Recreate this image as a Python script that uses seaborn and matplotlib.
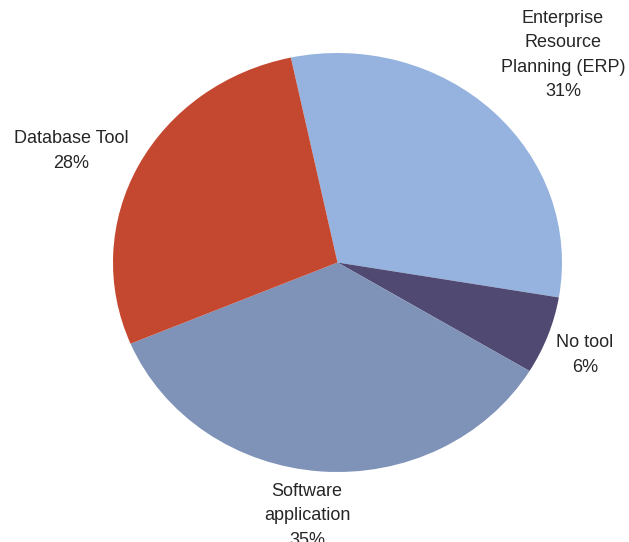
import matplotlib
matplotlib.use("Agg")
import matplotlib.pyplot as plt
import seaborn as sns

# Share of respondents by tool type
categories = ["Enterprise\nResource\nPlanning (ERP)", "No tool", "Software\napplication", "Database Tool"]
shares = [31, 6, 35, 28]
colors = ["#95B3DE", "#504A72", "#7F92B8", "#C4472F"]

# Label anchor points (pixel-style layout converted to pie data units)
label_px = [(563, 55), (585, 355), (307, 516), (71, 151)]

sns.set_theme(style="white")
plt.rcParams["font.family"] = ["Liberation Sans", "DejaVu Sans"]

W, H = 629, 542
fig = plt.figure(figsize=(W / 100, H / 100), dpi=100)
cx, cy, rx, ry = 337.5, 262.5, 224.5, 209.5
ax = fig.add_axes([(cx - rx) / W, (H - (cy + ry)) / H, 2 * rx / W, 2 * ry / H])

ax.pie(shares, colors=colors, startangle=102, counterclock=False,
       wedgeprops=dict(linewidth=0), radius=1, center=(0, 0))
ax.set_aspect("auto")
ax.set_xlim(-1, 1)
ax.set_ylim(-1, 1)
ax.axis("off")

for name, val, (px, py) in zip(categories, shares, label_px):
    ax.text((px - cx) / rx, (cy - py) / ry, f"{name}\n{val}%",
            ha="center", va="center", fontsize=13, color="#262626",
            linespacing=1.55, clip_on=False)

fig.savefig("out.png", dpi=100, facecolor="white")
